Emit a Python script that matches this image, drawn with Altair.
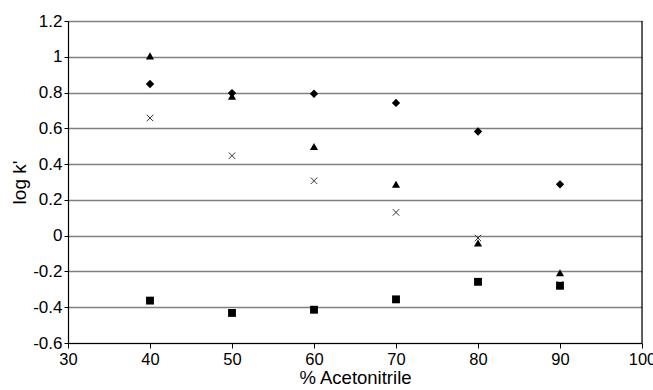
import altair as alt
import pandas as pd

pct = [40, 50, 60, 70, 80, 90]
diamond_vals = [0.848, 0.797, 0.793, 0.742, 0.582, 0.287]
triangle_vals = [1.005, 0.780, 0.498, 0.288, -0.041, -0.207]
cross_vals = [0.658, 0.447, 0.307, 0.130, -0.013, -0.272]
square_vals = [-0.363, -0.432, -0.414, -0.356, -0.258, -0.280]

x_ticks = [30, 40, 50, 60, 70, 80, 90, 100]
y_ticks = [-0.6, -0.4, -0.2, 0.0, 0.2, 0.4, 0.6, 0.8, 1.0, 1.2]

rows = []
for name, vals in [("diamond", diamond_vals), ("triangle", triangle_vals),
                   ("cross", cross_vals), ("square", square_vals)]:
    for xv, yv in zip(pct, vals):
        rows.append({"series": name, "pct": xv, "logk": yv})
df = pd.DataFrame(rows)

FONT = "Liberation Sans"

x_enc = alt.X(
    "pct:Q",
    scale=alt.Scale(domain=[30, 100], nice=False, zero=False),
    axis=alt.Axis(values=x_ticks, title="% Acetonitrile", grid=False,
                  domainColor="black", domainWidth=1.2, tickColor="black",
                  tickSize=5, labelPadding=3, labelFontSize=16.5, labelFont=FONT,
                  labelColor="black", titleFont=FONT, titleFontSize=18.5,
                  titleFontWeight="normal", titleColor="black", titlePadding=1,
                  labelFlush=False),
)
y_enc = alt.Y(
    "logk:Q",
    scale=alt.Scale(domain=[-0.6, 1.2], nice=False, zero=False),
    axis=alt.Axis(values=y_ticks, title="log k'", grid=True, gridColor="#808080",
                  gridWidth=1.5, domainColor="black", domainWidth=1.2,
                  tickColor="black", tickSize=4, labelPadding=2, labelFontSize=17,
                  labelFont=FONT, labelColor="black", titleFont=FONT,
                  titleFontSize=19, titleFontWeight="normal", titleColor="black",
                  titlePadding=3,
                  labelExpr="datum.value < 0 ? '-' + format(-datum.value, '.1~f') : format(datum.value, '.1~f')"),
)

base = alt.Chart(df)


def pts(series, **kw):
    return base.transform_filter(alt.datum.series == series).mark_point(
        opacity=1, **kw).encode(x=x_enc, y=y_enc)


cross = pts("cross", shape="M-1,-1L1,1M-1,1L1,-1", size=42, filled=False,
            color="#333333", strokeWidth=1)
square = pts("square", shape="square", size=62, filled=True, color="black")
triangle = pts("triangle", shape="triangle-up", size=66, filled=True, color="black")
diamond = pts("diamond", shape="diamond", size=70, filled=True, color="black")

border = alt.Chart(pd.DataFrame({"v": [100]})).mark_rule(
    color="black", strokeWidth=1.2).encode(x=alt.X("v:Q"))

chart = alt.layer(cross, square, triangle, diamond, border).properties(
    width=574, height=322,
    autosize=alt.AutoSizeParams(type="none"),
    padding={"left": 68, "top": 21, "right": 11, "bottom": 47},
).configure_view(stroke=None).configure(background="white")

chart.save("out.html", embed_options={"renderer": "svg", "actions": False})
